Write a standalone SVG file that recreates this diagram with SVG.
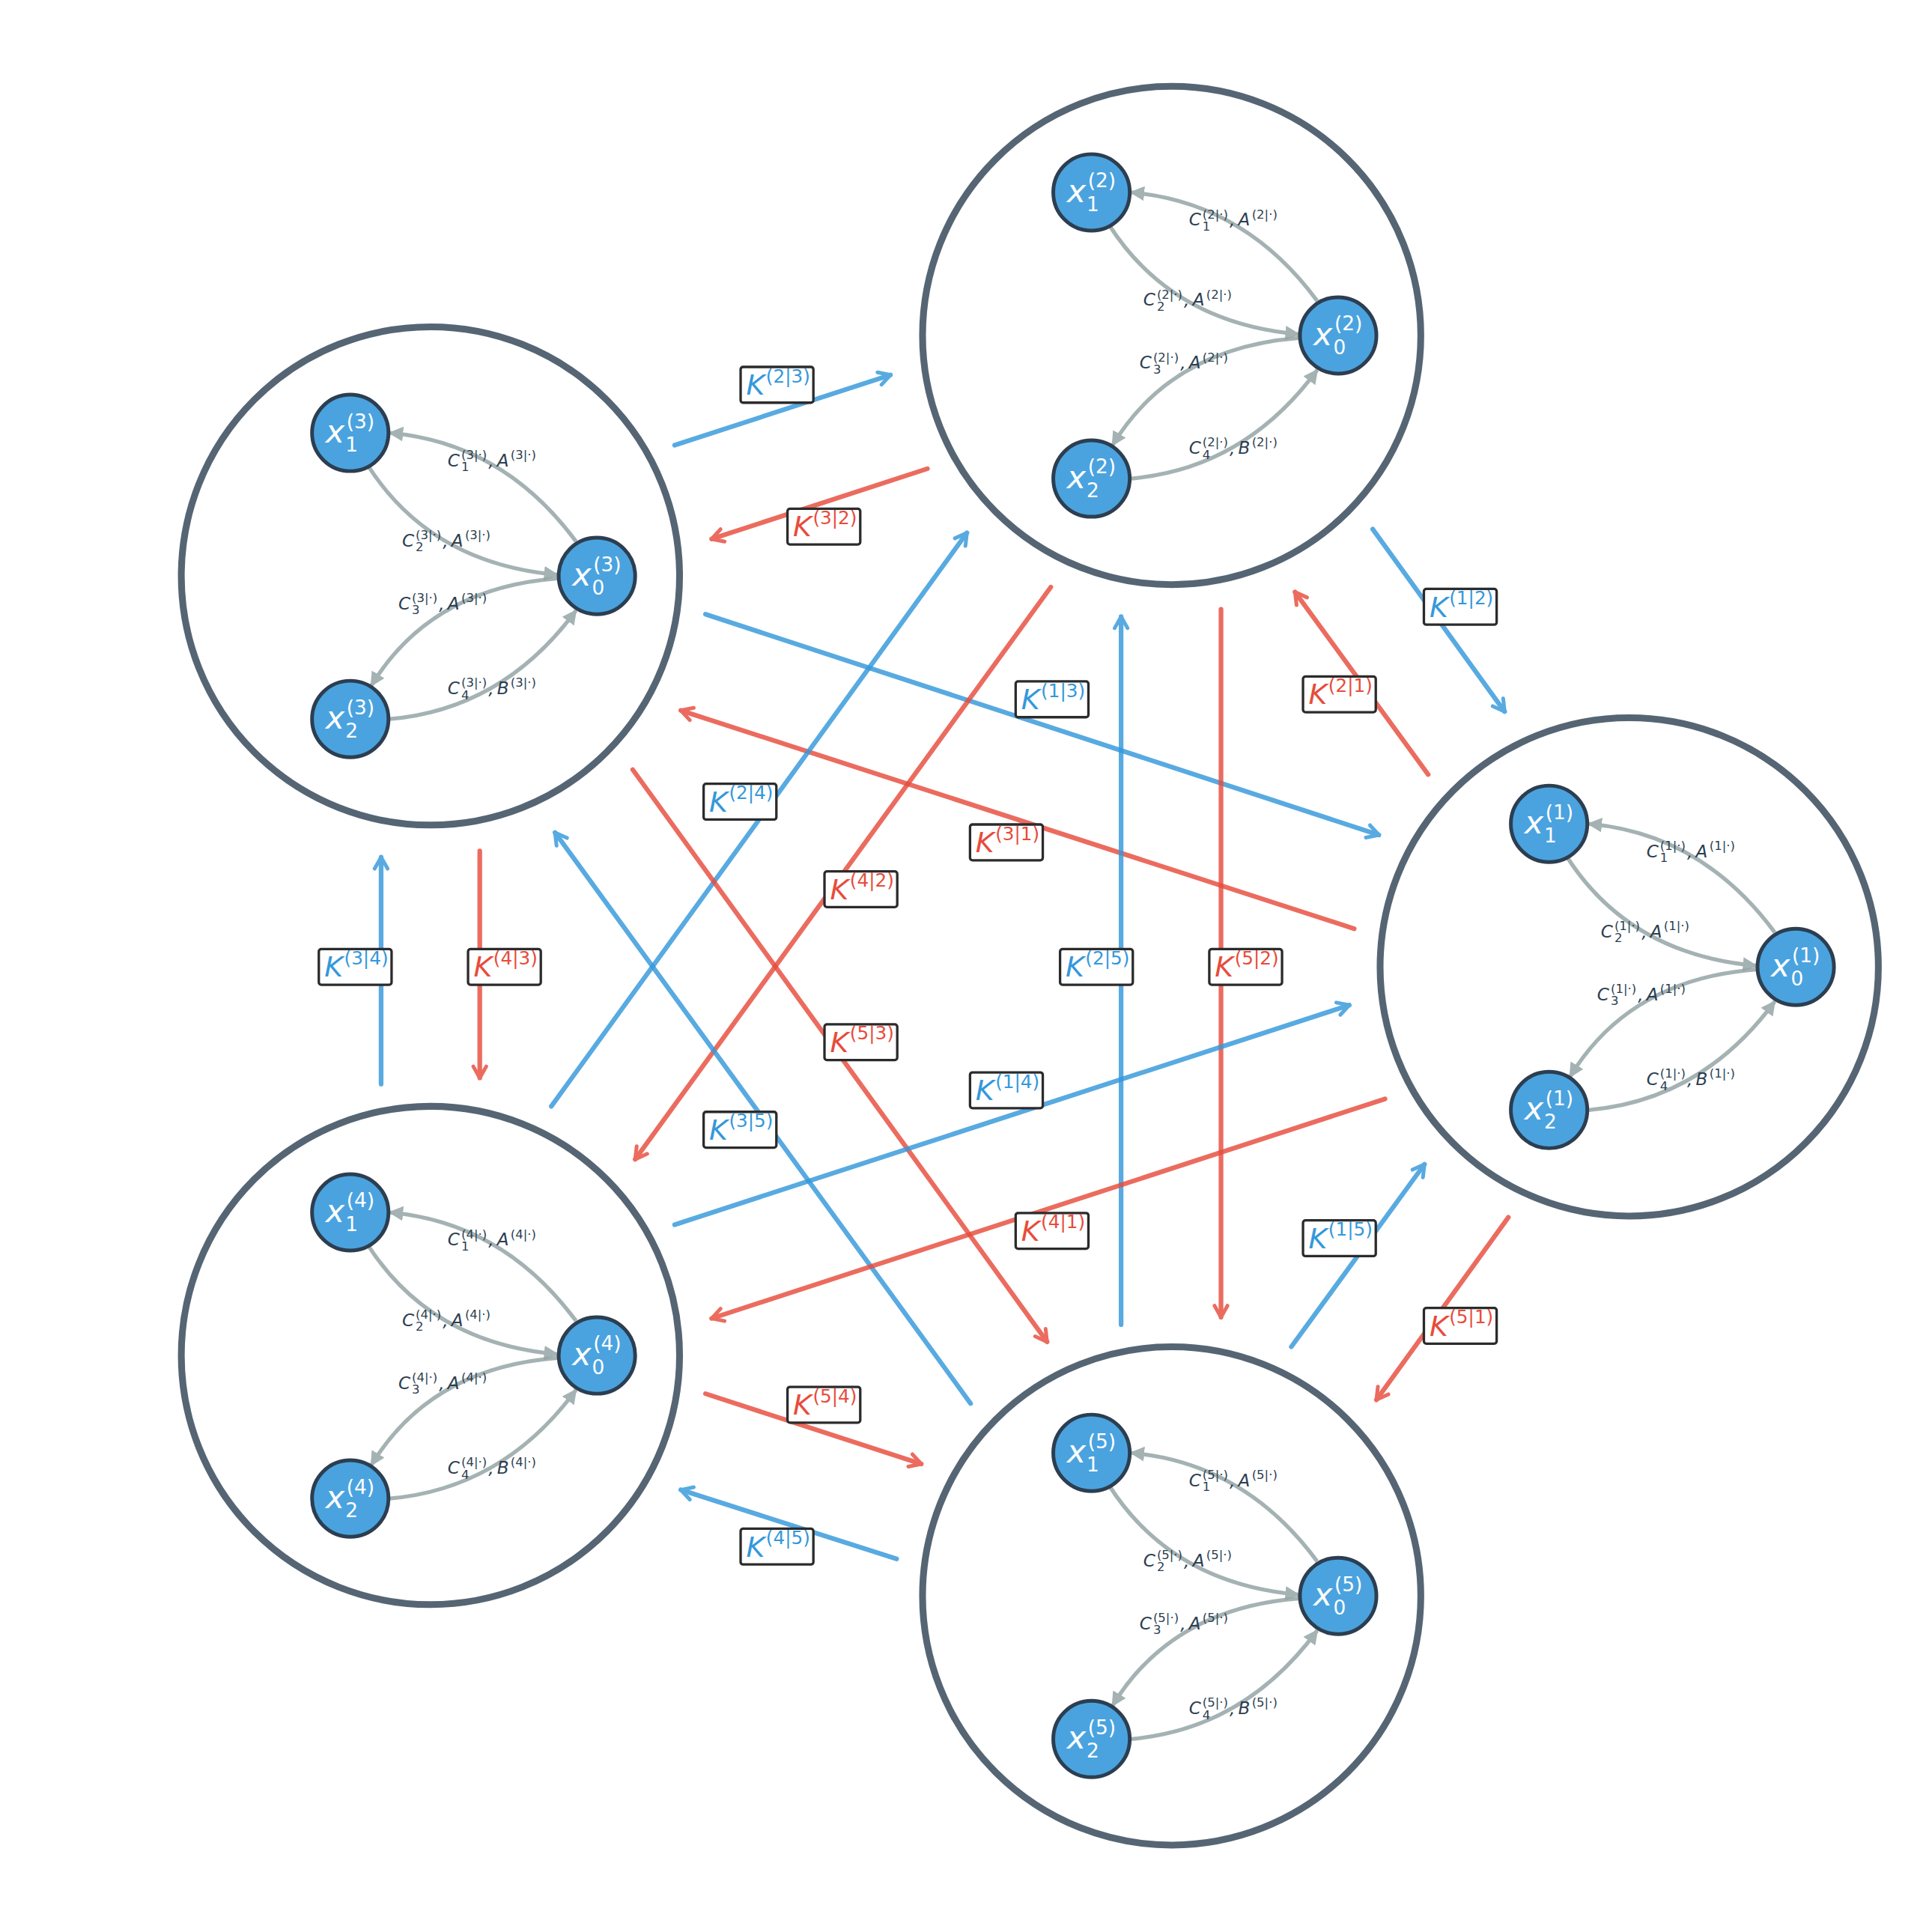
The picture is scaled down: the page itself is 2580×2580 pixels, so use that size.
<svg xmlns="http://www.w3.org/2000/svg" xmlns:xlink="http://www.w3.org/1999/xlink" width="2580" height="2580" viewBox="0 0 2580 2580">
<style>
.big{fill:none;stroke:#566573;stroke-width:5.5}
.nd{fill:#4aa3df;stroke:#2c3e50;stroke-width:3}
.ie{fill:none;stroke:#95a5a6;stroke-width:3.2;opacity:.85;marker-end:url(#tg)}
.nt{fill:#fff;font-family:"DejaVu Sans",sans-serif}
.ni{font-size:26px;font-style:italic}
.ns{font-size:16px}
.el{fill:#2c3e50;font-family:"DejaVu Sans",sans-serif}
.ei{font-size:14px;font-style:italic}
.es{font-size:10px}
.cb{fill:none;stroke:#3498db;stroke-width:3.8;opacity:.82;stroke-linecap:round;marker-end:url(#ab)}
.cr{fill:none;stroke:#e74c3c;stroke-width:3.8;opacity:.82;stroke-linecap:round;marker-end:url(#ar)}
.lb{fill:#fff;stroke:#2b2b2b;stroke-width:2}
.kt{font-family:"DejaVu Sans",sans-serif}
.ki{font-size:23px;font-style:italic}
.ks{font-size:15px}
.tb{fill:#3498db}
.tr{fill:#e74c3c}
</style>
<defs>
<marker id="tg" viewBox="0 0 10 10" refX="9" refY="5" markerWidth="12" markerHeight="12" markerUnits="userSpaceOnUse" orient="auto"><path d="M0,0 L10,5 L0,10 z" fill="#95a5a6"/></marker>
<marker id="ab" viewBox="0 0 12 12" refX="10" refY="6" markerWidth="14" markerHeight="14" markerUnits="userSpaceOnUse" orient="auto"><path d="M2,1.5 L10,6 L2,10.5" fill="none" stroke="#3498db" stroke-width="2.6" stroke-linecap="round" stroke-linejoin="round"/></marker>
<marker id="ar" viewBox="0 0 12 12" refX="10" refY="6" markerWidth="14" markerHeight="14" markerUnits="userSpaceOnUse" orient="auto"><path d="M2,1.5 L10,6 L2,10.5" fill="none" stroke="#e74c3c" stroke-width="2.6" stroke-linecap="round" stroke-linejoin="round"/></marker>
<g id="core">
<circle class="big" r="202"/>
<path class="ie" d="M118,-28 Q59,-108 -33,-116"/>
<path class="ie" d="M-51,-90 Q0,-10 103,-1"/>
<path class="ie" d="M103,2 Q0,10 -48,89"/>
<path class="ie" d="M-33,116 Q59,108 118,28"/>
<circle class="nd" cx="-65" cy="-116" r="31"/>
<circle class="nd" cx="135" cy="0" r="31"/>
<circle class="nd" cx="-65" cy="116" r="31"/>
</g>
</defs>
<rect width="2580" height="2580" fill="#fff"/>
<g transform="scale(1.647)">
<g id="cluster1" transform="translate(1321,784)"><use xlink:href="#core"/>
<text class="nt"><tspan x="-85" y="-108" class="ni">x</tspan><tspan x="-68" y="-120" class="ns">(1)</tspan><tspan x="-69" y="-101" class="ns">1</tspan></text>
<text class="nt"><tspan x="115" y="8" class="ni">x</tspan><tspan x="132" y="-4" class="ns">(1)</tspan><tspan x="131" y="15" class="ns">0</tspan></text>
<text class="nt"><tspan x="-85" y="124" class="ni">x</tspan><tspan x="-68" y="112" class="ns">(1)</tspan><tspan x="-69" y="131" class="ns">2</tspan></text>
<text class="el"><tspan x="14" y="-89" class="ei">C</tspan><tspan x="25" y="-95" class="es">(1|·)</tspan><tspan x="25" y="-85" class="es">1</tspan><tspan x="47" y="-89" class="ei">,</tspan><tspan x="54" y="-89" class="ei">A</tspan><tspan x="65" y="-95" class="es">(1|·)</tspan></text>
<text class="el"><tspan x="-23" y="-24" class="ei">C</tspan><tspan x="-12" y="-30" class="es">(1|·)</tspan><tspan x="-12" y="-20" class="es">2</tspan><tspan x="10" y="-24" class="ei">,</tspan><tspan x="17" y="-24" class="ei">A</tspan><tspan x="28" y="-30" class="es">(1|·)</tspan></text>
<text class="el"><tspan x="-26" y="27" class="ei">C</tspan><tspan x="-15" y="21" class="es">(1|·)</tspan><tspan x="-15" y="31" class="es">3</tspan><tspan x="7" y="27" class="ei">,</tspan><tspan x="14" y="27" class="ei">A</tspan><tspan x="25" y="21" class="es">(1|·)</tspan></text>
<text class="el"><tspan x="14" y="96" class="ei">C</tspan><tspan x="25" y="90" class="es">(1|·)</tspan><tspan x="25" y="100" class="es">4</tspan><tspan x="47" y="96" class="ei">,</tspan><tspan x="54" y="96" class="ei">B</tspan><tspan x="65" y="90" class="es">(1|·)</tspan></text>
</g>
<g id="cluster2" transform="translate(950,272)"><use xlink:href="#core"/>
<text class="nt"><tspan x="-85" y="-108" class="ni">x</tspan><tspan x="-68" y="-120" class="ns">(2)</tspan><tspan x="-69" y="-101" class="ns">1</tspan></text>
<text class="nt"><tspan x="115" y="8" class="ni">x</tspan><tspan x="132" y="-4" class="ns">(2)</tspan><tspan x="131" y="15" class="ns">0</tspan></text>
<text class="nt"><tspan x="-85" y="124" class="ni">x</tspan><tspan x="-68" y="112" class="ns">(2)</tspan><tspan x="-69" y="131" class="ns">2</tspan></text>
<text class="el"><tspan x="14" y="-89" class="ei">C</tspan><tspan x="25" y="-95" class="es">(2|·)</tspan><tspan x="25" y="-85" class="es">1</tspan><tspan x="47" y="-89" class="ei">,</tspan><tspan x="54" y="-89" class="ei">A</tspan><tspan x="65" y="-95" class="es">(2|·)</tspan></text>
<text class="el"><tspan x="-23" y="-24" class="ei">C</tspan><tspan x="-12" y="-30" class="es">(2|·)</tspan><tspan x="-12" y="-20" class="es">2</tspan><tspan x="10" y="-24" class="ei">,</tspan><tspan x="17" y="-24" class="ei">A</tspan><tspan x="28" y="-30" class="es">(2|·)</tspan></text>
<text class="el"><tspan x="-26" y="27" class="ei">C</tspan><tspan x="-15" y="21" class="es">(2|·)</tspan><tspan x="-15" y="31" class="es">3</tspan><tspan x="7" y="27" class="ei">,</tspan><tspan x="14" y="27" class="ei">A</tspan><tspan x="25" y="21" class="es">(2|·)</tspan></text>
<text class="el"><tspan x="14" y="96" class="ei">C</tspan><tspan x="25" y="90" class="es">(2|·)</tspan><tspan x="25" y="100" class="es">4</tspan><tspan x="47" y="96" class="ei">,</tspan><tspan x="54" y="96" class="ei">B</tspan><tspan x="65" y="90" class="es">(2|·)</tspan></text>
</g>
<g id="cluster3" transform="translate(349,467)"><use xlink:href="#core"/>
<text class="nt"><tspan x="-85" y="-108" class="ni">x</tspan><tspan x="-68" y="-120" class="ns">(3)</tspan><tspan x="-69" y="-101" class="ns">1</tspan></text>
<text class="nt"><tspan x="115" y="8" class="ni">x</tspan><tspan x="132" y="-4" class="ns">(3)</tspan><tspan x="131" y="15" class="ns">0</tspan></text>
<text class="nt"><tspan x="-85" y="124" class="ni">x</tspan><tspan x="-68" y="112" class="ns">(3)</tspan><tspan x="-69" y="131" class="ns">2</tspan></text>
<text class="el"><tspan x="14" y="-89" class="ei">C</tspan><tspan x="25" y="-95" class="es">(3|·)</tspan><tspan x="25" y="-85" class="es">1</tspan><tspan x="47" y="-89" class="ei">,</tspan><tspan x="54" y="-89" class="ei">A</tspan><tspan x="65" y="-95" class="es">(3|·)</tspan></text>
<text class="el"><tspan x="-23" y="-24" class="ei">C</tspan><tspan x="-12" y="-30" class="es">(3|·)</tspan><tspan x="-12" y="-20" class="es">2</tspan><tspan x="10" y="-24" class="ei">,</tspan><tspan x="17" y="-24" class="ei">A</tspan><tspan x="28" y="-30" class="es">(3|·)</tspan></text>
<text class="el"><tspan x="-26" y="27" class="ei">C</tspan><tspan x="-15" y="21" class="es">(3|·)</tspan><tspan x="-15" y="31" class="es">3</tspan><tspan x="7" y="27" class="ei">,</tspan><tspan x="14" y="27" class="ei">A</tspan><tspan x="25" y="21" class="es">(3|·)</tspan></text>
<text class="el"><tspan x="14" y="96" class="ei">C</tspan><tspan x="25" y="90" class="es">(3|·)</tspan><tspan x="25" y="100" class="es">4</tspan><tspan x="47" y="96" class="ei">,</tspan><tspan x="54" y="96" class="ei">B</tspan><tspan x="65" y="90" class="es">(3|·)</tspan></text>
</g>
<g id="cluster4" transform="translate(349,1099)"><use xlink:href="#core"/>
<text class="nt"><tspan x="-85" y="-108" class="ni">x</tspan><tspan x="-68" y="-120" class="ns">(4)</tspan><tspan x="-69" y="-101" class="ns">1</tspan></text>
<text class="nt"><tspan x="115" y="8" class="ni">x</tspan><tspan x="132" y="-4" class="ns">(4)</tspan><tspan x="131" y="15" class="ns">0</tspan></text>
<text class="nt"><tspan x="-85" y="124" class="ni">x</tspan><tspan x="-68" y="112" class="ns">(4)</tspan><tspan x="-69" y="131" class="ns">2</tspan></text>
<text class="el"><tspan x="14" y="-89" class="ei">C</tspan><tspan x="25" y="-95" class="es">(4|·)</tspan><tspan x="25" y="-85" class="es">1</tspan><tspan x="47" y="-89" class="ei">,</tspan><tspan x="54" y="-89" class="ei">A</tspan><tspan x="65" y="-95" class="es">(4|·)</tspan></text>
<text class="el"><tspan x="-23" y="-24" class="ei">C</tspan><tspan x="-12" y="-30" class="es">(4|·)</tspan><tspan x="-12" y="-20" class="es">2</tspan><tspan x="10" y="-24" class="ei">,</tspan><tspan x="17" y="-24" class="ei">A</tspan><tspan x="28" y="-30" class="es">(4|·)</tspan></text>
<text class="el"><tspan x="-26" y="27" class="ei">C</tspan><tspan x="-15" y="21" class="es">(4|·)</tspan><tspan x="-15" y="31" class="es">3</tspan><tspan x="7" y="27" class="ei">,</tspan><tspan x="14" y="27" class="ei">A</tspan><tspan x="25" y="21" class="es">(4|·)</tspan></text>
<text class="el"><tspan x="14" y="96" class="ei">C</tspan><tspan x="25" y="90" class="es">(4|·)</tspan><tspan x="25" y="100" class="es">4</tspan><tspan x="47" y="96" class="ei">,</tspan><tspan x="54" y="96" class="ei">B</tspan><tspan x="65" y="90" class="es">(4|·)</tspan></text>
</g>
<g id="cluster5" transform="translate(950,1294)"><use xlink:href="#core"/>
<text class="nt"><tspan x="-85" y="-108" class="ni">x</tspan><tspan x="-68" y="-120" class="ns">(5)</tspan><tspan x="-69" y="-101" class="ns">1</tspan></text>
<text class="nt"><tspan x="115" y="8" class="ni">x</tspan><tspan x="132" y="-4" class="ns">(5)</tspan><tspan x="131" y="15" class="ns">0</tspan></text>
<text class="nt"><tspan x="-85" y="124" class="ni">x</tspan><tspan x="-68" y="112" class="ns">(5)</tspan><tspan x="-69" y="131" class="ns">2</tspan></text>
<text class="el"><tspan x="14" y="-89" class="ei">C</tspan><tspan x="25" y="-95" class="es">(5|·)</tspan><tspan x="25" y="-85" class="es">1</tspan><tspan x="47" y="-89" class="ei">,</tspan><tspan x="54" y="-89" class="ei">A</tspan><tspan x="65" y="-95" class="es">(5|·)</tspan></text>
<text class="el"><tspan x="-23" y="-24" class="ei">C</tspan><tspan x="-12" y="-30" class="es">(5|·)</tspan><tspan x="-12" y="-20" class="es">2</tspan><tspan x="10" y="-24" class="ei">,</tspan><tspan x="17" y="-24" class="ei">A</tspan><tspan x="28" y="-30" class="es">(5|·)</tspan></text>
<text class="el"><tspan x="-26" y="27" class="ei">C</tspan><tspan x="-15" y="21" class="es">(5|·)</tspan><tspan x="-15" y="31" class="es">3</tspan><tspan x="7" y="27" class="ei">,</tspan><tspan x="14" y="27" class="ei">A</tspan><tspan x="25" y="21" class="es">(5|·)</tspan></text>
<text class="el"><tspan x="14" y="96" class="ei">C</tspan><tspan x="25" y="90" class="es">(5|·)</tspan><tspan x="25" y="100" class="es">4</tspan><tspan x="47" y="96" class="ei">,</tspan><tspan x="54" y="96" class="ei">B</tspan><tspan x="65" y="90" class="es">(5|·)</tspan></text>
</g>
<g id="connectors">
<path class="cb" d="M547,361 L722,304"/>
<path class="cr" d="M752,380 L577,437"/>
<path class="cb" d="M1113,429 L1220,577"/>
<path class="cr" d="M1158,628 L1050,480"/>
<path class="cb" d="M572,498 L1118,677"/>
<path class="cr" d="M1098,753 L552,576"/>
<path class="cb" d="M447,897 L784,432"/>
<path class="cr" d="M852,476 L515,940"/>
<path class="cb" d="M787,1138 L450,675"/>
<path class="cr" d="M513,624 L849,1088"/>
<path class="cb" d="M309,879 L309,695"/>
<path class="cr" d="M389,690 L389,874"/>
<path class="cb" d="M909,1074 L909,500"/>
<path class="cr" d="M990,494 L990,1068"/>
<path class="cb" d="M547,993 L1094,815"/>
<path class="cr" d="M1123,891 L577,1069"/>
<path class="cb" d="M1047,1092 L1155,944"/>
<path class="cr" d="M1223,987 L1116,1135"/>
<path class="cr" d="M572,1130 L747,1187"/>
<path class="cb" d="M727,1264 L552,1208"/>
</g>
<g id="labels" class="kt">
<g transform="translate(630,312)"><rect class="lb" x="-29.5" y="-14.5" width="59" height="29" rx="2"/><text class="tb"><tspan x="-25" y="8" class="ki">K</tspan><tspan x="-9" y="-2" class="ks">(2|3)</tspan></text></g>
<g transform="translate(668,427)"><rect class="lb" x="-29.5" y="-14.5" width="59" height="29" rx="2"/><text class="tr"><tspan x="-25" y="8" class="ki">K</tspan><tspan x="-9" y="-2" class="ks">(3|2)</tspan></text></g>
<g transform="translate(1184,492)"><rect class="lb" x="-29.5" y="-14.5" width="59" height="29" rx="2"/><text class="tb"><tspan x="-25" y="8" class="ki">K</tspan><tspan x="-9" y="-2" class="ks">(1|2)</tspan></text></g>
<g transform="translate(1086,563)"><rect class="lb" x="-29.5" y="-14.5" width="59" height="29" rx="2"/><text class="tr"><tspan x="-25" y="8" class="ki">K</tspan><tspan x="-9" y="-2" class="ks">(2|1)</tspan></text></g>
<g transform="translate(853,567)"><rect class="lb" x="-29.5" y="-14.5" width="59" height="29" rx="2"/><text class="tb"><tspan x="-25" y="8" class="ki">K</tspan><tspan x="-9" y="-2" class="ks">(1|3)</tspan></text></g>
<g transform="translate(816,683)"><rect class="lb" x="-29.5" y="-14.5" width="59" height="29" rx="2"/><text class="tr"><tspan x="-25" y="8" class="ki">K</tspan><tspan x="-9" y="-2" class="ks">(3|1)</tspan></text></g>
<g transform="translate(600,650)"><rect class="lb" x="-29.5" y="-14.5" width="59" height="29" rx="2"/><text class="tb"><tspan x="-25" y="8" class="ki">K</tspan><tspan x="-9" y="-2" class="ks">(2|4)</tspan></text></g>
<g transform="translate(698,721)"><rect class="lb" x="-29.5" y="-14.5" width="59" height="29" rx="2"/><text class="tr"><tspan x="-25" y="8" class="ki">K</tspan><tspan x="-9" y="-2" class="ks">(4|2)</tspan></text></g>
<g transform="translate(600,916)"><rect class="lb" x="-29.5" y="-14.5" width="59" height="29" rx="2"/><text class="tb"><tspan x="-25" y="8" class="ki">K</tspan><tspan x="-9" y="-2" class="ks">(3|5)</tspan></text></g>
<g transform="translate(698,845)"><rect class="lb" x="-29.5" y="-14.5" width="59" height="29" rx="2"/><text class="tr"><tspan x="-25" y="8" class="ki">K</tspan><tspan x="-9" y="-2" class="ks">(5|3)</tspan></text></g>
<g transform="translate(288,784)"><rect class="lb" x="-29.5" y="-14.5" width="59" height="29" rx="2"/><text class="tb"><tspan x="-25" y="8" class="ki">K</tspan><tspan x="-9" y="-2" class="ks">(3|4)</tspan></text></g>
<g transform="translate(409,784)"><rect class="lb" x="-29.5" y="-14.5" width="59" height="29" rx="2"/><text class="tr"><tspan x="-25" y="8" class="ki">K</tspan><tspan x="-9" y="-2" class="ks">(4|3)</tspan></text></g>
<g transform="translate(889,784)"><rect class="lb" x="-29.5" y="-14.5" width="59" height="29" rx="2"/><text class="tb"><tspan x="-25" y="8" class="ki">K</tspan><tspan x="-9" y="-2" class="ks">(2|5)</tspan></text></g>
<g transform="translate(1010,784)"><rect class="lb" x="-29.5" y="-14.5" width="59" height="29" rx="2"/><text class="tr"><tspan x="-25" y="8" class="ki">K</tspan><tspan x="-9" y="-2" class="ks">(5|2)</tspan></text></g>
<g transform="translate(816,884)"><rect class="lb" x="-29.5" y="-14.5" width="59" height="29" rx="2"/><text class="tb"><tspan x="-25" y="8" class="ki">K</tspan><tspan x="-9" y="-2" class="ks">(1|4)</tspan></text></g>
<g transform="translate(853,998)"><rect class="lb" x="-29.5" y="-14.5" width="59" height="29" rx="2"/><text class="tr"><tspan x="-25" y="8" class="ki">K</tspan><tspan x="-9" y="-2" class="ks">(4|1)</tspan></text></g>
<g transform="translate(1086,1004)"><rect class="lb" x="-29.5" y="-14.5" width="59" height="29" rx="2"/><text class="tb"><tspan x="-25" y="8" class="ki">K</tspan><tspan x="-9" y="-2" class="ks">(1|5)</tspan></text></g>
<g transform="translate(1184,1075)"><rect class="lb" x="-29.5" y="-14.5" width="59" height="29" rx="2"/><text class="tr"><tspan x="-25" y="8" class="ki">K</tspan><tspan x="-9" y="-2" class="ks">(5|1)</tspan></text></g>
<g transform="translate(668,1139)"><rect class="lb" x="-29.5" y="-14.5" width="59" height="29" rx="2"/><text class="tr"><tspan x="-25" y="8" class="ki">K</tspan><tspan x="-9" y="-2" class="ks">(5|4)</tspan></text></g>
<g transform="translate(630,1254)"><rect class="lb" x="-29.5" y="-14.5" width="59" height="29" rx="2"/><text class="tb"><tspan x="-25" y="8" class="ki">K</tspan><tspan x="-9" y="-2" class="ks">(4|5)</tspan></text></g>
</g>
</g>
</svg>
